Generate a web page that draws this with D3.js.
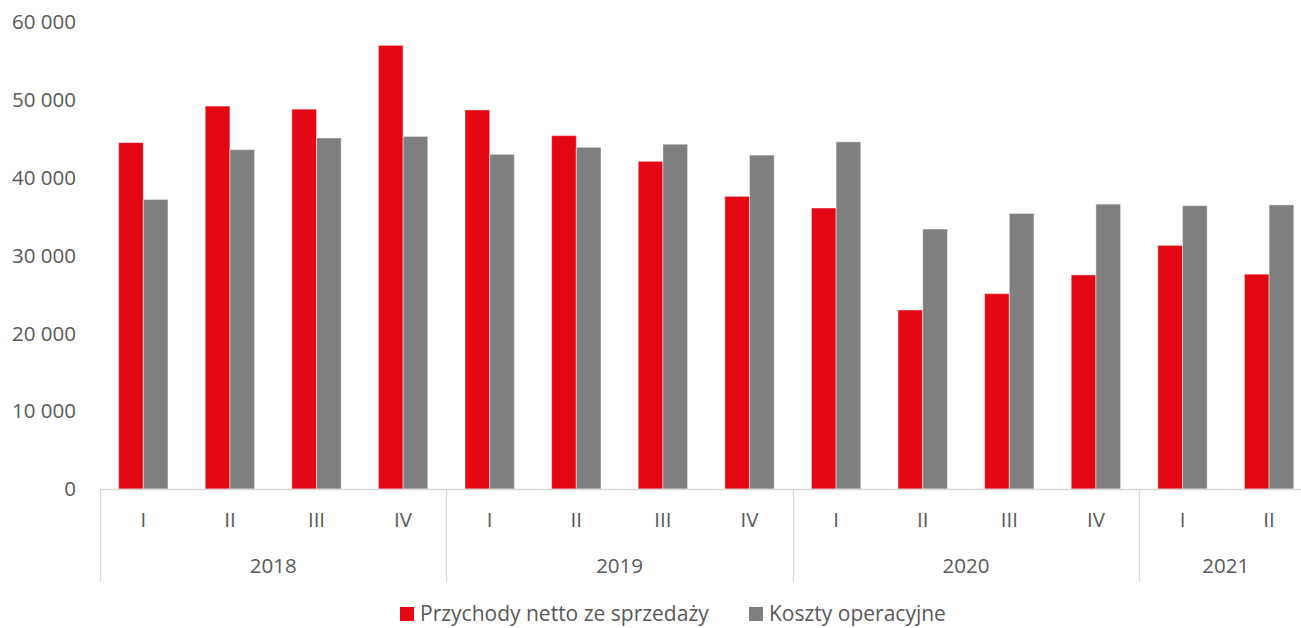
<!DOCTYPE html>
<html>
<head>
<meta charset="utf-8">
<script src="https://cdn.jsdelivr.net/npm/d3@7"></script>
<style>
  body { margin: 0; background: #fff; }
  text { font-family: "Open Sans", sans-serif; fill: #595959; }
</style>
</head>
<body>
<svg id="chart" width="1301" height="628"></svg>
<script>
// data
const years = ["2018", "2019", "2020", "2021"];
const quarters = [
    ["I", "II", "III", "IV"],
    ["I", "II", "III", "IV"],
    ["I", "II", "III", "IV"],
    ["I", "II"]
];
const przychody = [44500, 49200, 48800, 57000, 48700, 45400, 42100, 37600, 36100, 23000, 25100, 27500, 31300, 27600];
const koszty = [37200, 43600, 45100, 45300, 43000, 43900, 44300, 42900, 44600, 33400, 35400, 36600, 36400, 36500];
const seriesNames = ["Przychody netto ze sprzedaży", "Koszty operacyjne"];
const colors = ["#e30613", "#7f7f7f"];
const yTicks = [0, 10000, 20000, 30000, 40000, 50000, 60000];

// flatten categories
let cats = [];
years.forEach((yr, i) => {
    quarters[i].forEach(q => cats.push({ key: yr + "-" + q, year: yr, q: q }));
});
const data = cats.map((c, i) => ({ ...c, values: [przychody[i], koszty[i]] }));

const svg = d3.select("#chart");
const margin = { left: 100, top: 22, bottom: 489 };
const step = 86.6;

var x = d3.scaleBand()
    .domain(cats.map(d => d.key))
    .range([margin.left, margin.left + step * cats.length])
    .paddingInner(0.43)
    .paddingOuter(0.215);

var xInner = d3.scaleBand()
    .domain([0, 1])
    .range([0, x.bandwidth()]);

var y = d3.scaleLinear()
    .domain([0, 60000])
    .range([margin.bottom, margin.top]);

const fmt = v => d3.format(",")(v).replace(/,/g, " ");

// y axis labels (no line, no grid)
svg.append("g")
    .selectAll("text")
    .data(yTicks)
    .join("text")
    .attr("x", 76)
    .attr("y", d => y(d))
    .attr("dy", "0.35em")
    .attr("text-anchor", "end")
    .style("font-size", "20.5px")
    .text(d => fmt(d));

// bars
const groups = svg.append("g")
    .selectAll("g")
    .data(data)
    .join("g")
    .attr("transform", d => `translate(${x(d.key)},0)`);

groups.selectAll("rect")
    .data(d => d.values.map((v, i) => ({ v: v, i: i })))
    .join("rect")
    .attr("x", d => xInner(d.i))
    .attr("y", d => y(d.v))
    .attr("width", xInner.bandwidth())
    .attr("height", d => y(0) - y(d.v))
    .attr("fill", d => colors[d.i])
    .attr("stroke", "rgba(255,255,255,0.45)")
    .attr("stroke-width", 1);

// x axis line
svg.append("line")
    .attr("x1", margin.left)
    .attr("x2", 1301)
    .attr("y1", y(0) + 0.5)
    .attr("y2", y(0) + 0.5)
    .attr("stroke", "#d9d9d9")
    .attr("stroke-width", 1.3);

// quarter labels
svg.append("g")
    .selectAll("text")
    .data(cats)
    .join("text")
    .attr("x", d => x(d.key) + x.bandwidth() / 2)
    .attr("y", 520)
    .attr("dy", "0.35em")
    .attr("text-anchor", "middle")
    .style("font-size", "20.5px")
    .text(d => d.q);

// year groups: separators + labels
const half = (x.step() - x.bandwidth()) / 2;
const yearInfo = years.map(yr => {
    const ks = cats.filter(c => c.year == yr).map(c => c.key);
    return {
        year: yr,
        start: x(ks[0]) - half,
        end: x(ks[ks.length - 1]) + x.bandwidth() + half
    };
});

svg.append("g")
    .selectAll("line")
    .data(yearInfo)
    .join("line")
    .attr("x1", d => Math.round(d.start) + 0.5)
    .attr("x2", d => Math.round(d.start) + 0.5)
    .attr("y1", y(0))
    .attr("y2", 582)
    .attr("stroke", "#d9d9d9")
    .attr("stroke-width", 1.3);

svg.append("g")
    .selectAll("text")
    .data(yearInfo)
    .join("text")
    .attr("x", d => (d.start + d.end) / 2)
    .attr("y", 566)
    .attr("dy", "0.35em")
    .attr("text-anchor", "middle")
    .style("font-size", "20.5px")
    .text(d => d.year);

// legend
const legendX = [400, 749];
const legend = svg.append("g")
    .selectAll("g")
    .data(seriesNames)
    .join("g")
    .attr("transform", (d, i) => `translate(${legendX[i]},607)`);
legend.append("rect")
    .attr("width", 14)
    .attr("height", 14)
    .attr("fill", (d, i) => colors[i]);
legend.append("text")
    .attr("x", 20)
    .attr("y", 7)
    .attr("dy", "0.35em")
    .style("font-size", "21px")
    .text(d => d);
</script>
</body>
</html>
